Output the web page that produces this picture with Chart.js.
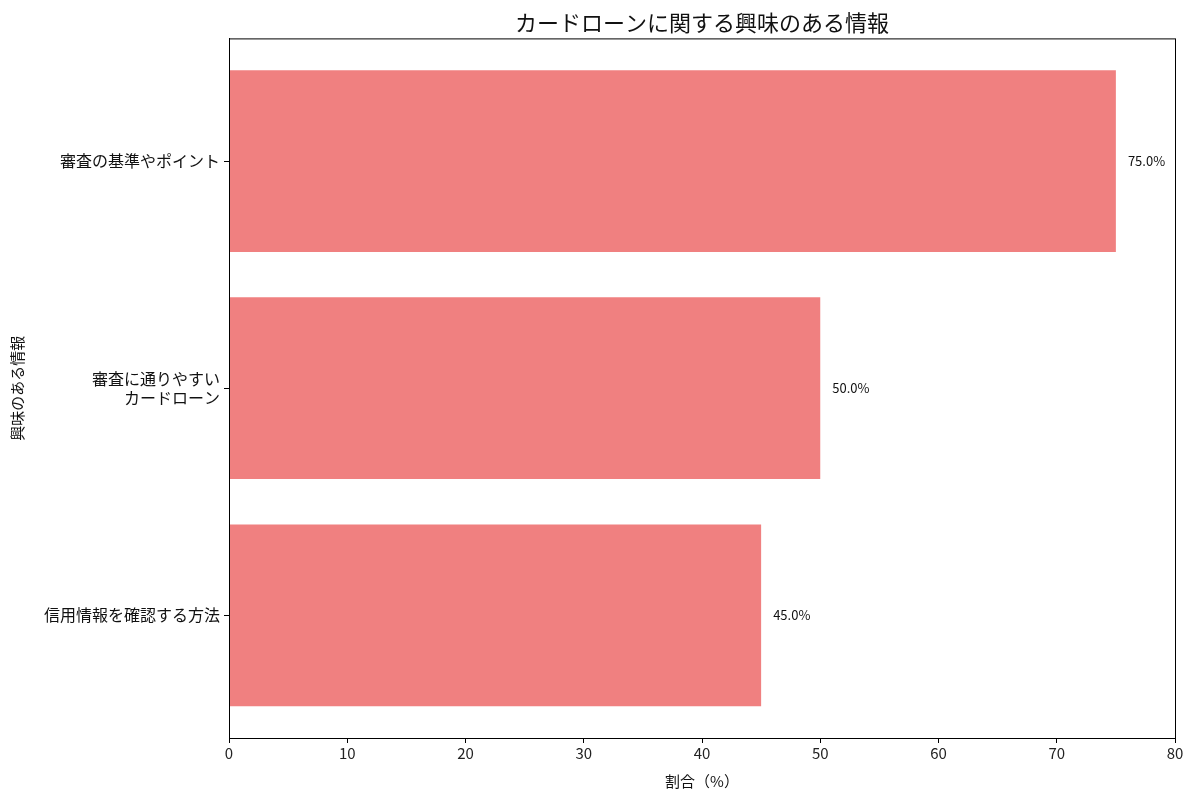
<!DOCTYPE html>
<html>
<head>
<meta charset="utf-8">
<script src="https://cdn.jsdelivr.net/npm/chart.js@4"></script>
<style>
  body { margin: 0; background: #fff; }
  #wrap { width: 1200px; height: 800px; }
</style>
</head>
<body>
<div id="wrap"><canvas id="myChart"></canvas></div>
<script>
const categorias = [
    '審査の基準やポイント',
    ['審査に通りやすい', 'カードローン'],
    '信用情報を確認する方法'
];
const valores = [75, 50, 45];
const xTicks = [0, 10, 20, 30, 40, 50, 60, 70, 80];

const fonte = '"Noto Sans CJK JP", "Noto Sans", sans-serif';
const ctx = document.getElementById('myChart');

// rotulos de valor ao lado das barras + moldura do grafico
const extras = {
    id: 'extras',
    afterDatasetsDraw(chart) {
        const c = chart.ctx;
        const meta = chart.getDatasetMeta(0);
        c.save();
        c.fillStyle = '#111';
        c.font = '13px ' + fonte;
        c.textBaseline = 'middle';
        meta.data.forEach((bar, i) => {
            c.fillText(valores[i].toFixed(1) + '%', bar.x + 12, bar.y);
        });
        const a = chart.chartArea;
        c.strokeStyle = '#000';
        c.lineWidth = 1;
        c.strokeRect(a.left + 0.5, a.top + 0.5, a.right - a.left, a.bottom - a.top);
        c.restore();
    }
};

const chart = new Chart(ctx, {
    type: 'bar',
    data: {
        datasets: [{
            data: valores.map((v, i) => ({ x: v, y: i })),
            backgroundColor: '#F08080',
            barPercentage: 0.8,
            categoryPercentage: 1.0
        }]
    },
    options: {
        indexAxis: 'y',
        responsive: true,
        maintainAspectRatio: false,
        animation: false,
        layout: { padding: { left: 8, right: 25, top: 9, bottom: 0 } },
        plugins: {
            legend: { display: false },
            tooltip: { enabled: false },
            title: {
                display: true,
                fullSize: false,
                text: 'カードローンに関する興味のある情報',
                color: '#111',
                font: { family: fonte, size: 22, weight: 'normal' },
                padding: { top: 0, bottom: 3 }
            }
        },
        scales: {
            x: {
                type: 'linear',
                min: 0,
                max: 80,
                afterBuildTicks: s => { s.ticks = xTicks.map(v => ({ value: v })); },
                ticks: { color: '#222', font: { family: fonte, size: 15 }, padding: 1 },
                grid: { drawOnChartArea: false, drawTicks: true, tickLength: 5, color: '#000' },
                border: { display: true, color: '#000' },
                title: {
                    display: true,
                    text: '割合（%）',
                    color: '#111',
                    font: { family: fonte, size: 15 },
                    padding: { top: 1, bottom: 10 }
                },
                afterFit: s => { s.height = 62; }
            },
            y: {
                type: 'linear',
                reverse: true,
                offset: false,
                min: -0.54,
                max: 2.54,
                afterBuildTicks: s => { s.ticks = categorias.map((c, i) => ({ value: i })); },
                ticks: {
                    color: '#111',
                    font: { family: fonte, size: 16 },
                    padding: 4,
                    callback: v => categorias[v]
                },
                grid: { offset: false, drawOnChartArea: false, drawTicks: true, tickLength: 5, color: '#000' },
                border: { display: true, color: '#000' },
                title: {
                    display: true,
                    text: '興味のある情報',
                    color: '#111',
                    font: { family: fonte, size: 15 },
                    padding: { top: 0, bottom: 6 }
                },
                afterFit: s => { s.width = 221; }
            }
        }
    },
    plugins: [extras]
});
</script>
</body>
</html>
